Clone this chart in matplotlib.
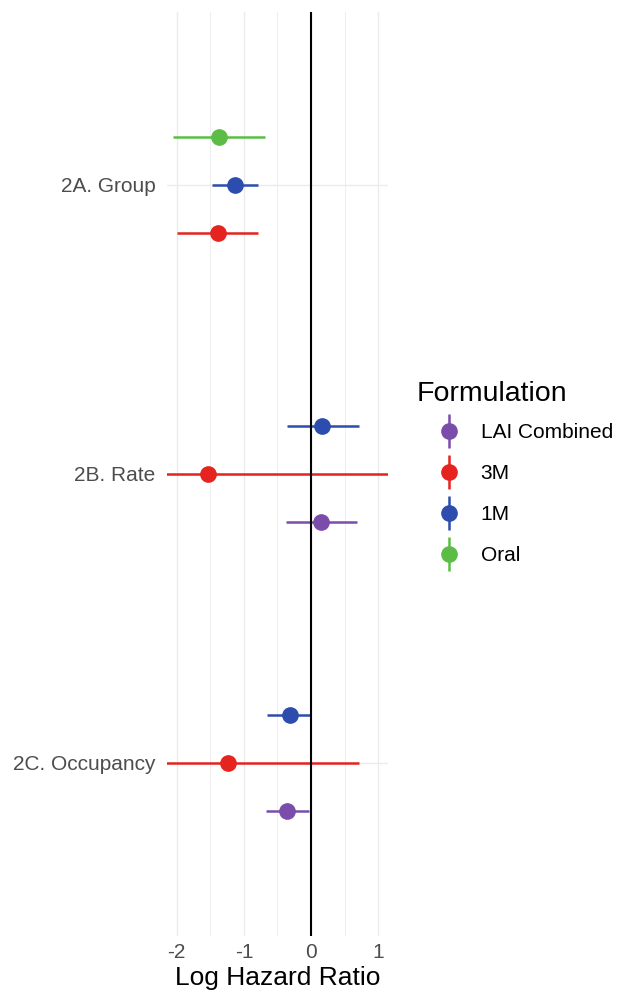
"""Forest plot of log hazard ratios by formulation."""

import matplotlib
matplotlib.use("Agg")
import matplotlib.pyplot as plt
from matplotlib.lines import Line2D
from matplotlib.legend_handler import HandlerTuple

plt.rcParams["font.family"] = ["Liberation Sans", "DejaVu Sans"]
plt.rcParams["axes.unicode_minus"] = False

# Data (rows listed top to bottom within each group)
categories = ["2A. Group", "2B. Rate", "2C. Occupancy"]
row_category = ["2A. Group", "2A. Group", "2A. Group",
                "2B. Rate", "2B. Rate", "2B. Rate",
                "2C. Occupancy", "2C. Occupancy", "2C. Occupancy"]
row_formulation = ["Oral", "1M", "3M",
                   "1M", "3M", "LAI Combined",
                   "1M", "3M", "LAI Combined"]
estimate = [-1.37, -1.13, -1.38, 0.17, -1.54, 0.15, -0.32, -1.24, -0.36]
ci_low = [-2.05, -1.48, -1.99, -0.36, -2.60, -0.38, -0.66, -2.60, -0.67]
ci_high = [-0.69, -0.79, -0.79, 0.71, 1.60, 0.68, -0.01, 0.71, -0.03]

legend_order = ["LAI Combined", "3M", "1M", "Oral"]
colors = {"LAI Combined": "#7B4DAA", "3M": "#E5231F",
          "1M": "#2C4DAE", "Oral": "#5BBD45"}

x_ticks = [-2, -1, 0, 1]
x_minor = [-1.5, -0.5, 0.5]

fig = plt.figure(figsize=(6.17, 9.99), dpi=100)
ax = fig.add_axes([0.2702, 0.0627, 0.3591, 0.9257])

grid_col = "#EBEBEB"
for x in x_ticks:
    ax.axvline(x, color=grid_col, lw=1.0, zorder=0)
for x in x_minor:
    ax.axvline(x, color=grid_col, lw=0.6, zorder=0)
for i in range(len(categories)):
    ax.axhline(i, color=grid_col, lw=1.0, zorder=0)

dodge = 0.166
slot = {}
for cat, form, est, lo, hi in zip(row_category, row_formulation, estimate, ci_low, ci_high):
    base = categories.index(cat)
    k = slot.get(cat, 0)
    slot[cat] = k + 1
    y = base + (k - 1) * dodge
    c = colors[form]
    ax.plot([lo, hi], [y, y], color=c, lw=1.8, solid_capstyle="butt", zorder=2)
    ax.plot(est, y, "o", color=c, ms=11, zorder=3)

ax.axvline(0, color="black", lw=1.5, zorder=4)

ax.set_xlim(-2.15, 1.15)
ax.set_ylim(2.6, -0.6)
ax.set_xticks(x_ticks)
ax.set_xticklabels([str(t) for t in x_ticks])
ax.set_yticks(range(len(categories)))
ax.set_yticklabels(categories)
ax.tick_params(axis="both", length=0, labelsize=15, labelcolor="#4D4D4D")
ax.tick_params(axis="y", pad=8)
ax.tick_params(axis="x", pad=5)
for s in ax.spines.values():
    s.set_visible(False)
ax.set_xlabel("Log Hazard Ratio", fontsize=19, labelpad=3)

handles = []
for form in legend_order:
    bar = Line2D([], [], marker="|", ms=24, mew=1.8, color=colors[form], ls="none")
    dot = Line2D([], [], marker="o", ms=11, color=colors[form], ls="none")
    handles.append((bar, dot))

leg = fig.legend(handles, legend_order, handler_map={tuple: HandlerTuple(ndivide=1)},
                 loc="upper left", bbox_to_anchor=(0.676, 0.619), frameon=False,
                 title="Formulation", title_fontsize=20.5, fontsize=15,
                 handlelength=3.05, handletextpad=0.0, labelspacing=1.05,
                 borderaxespad=0, borderpad=0)
leg._legend_box.align = "left"
leg._legend_box.sep = 12

fig.savefig("out.png", dpi=100)
